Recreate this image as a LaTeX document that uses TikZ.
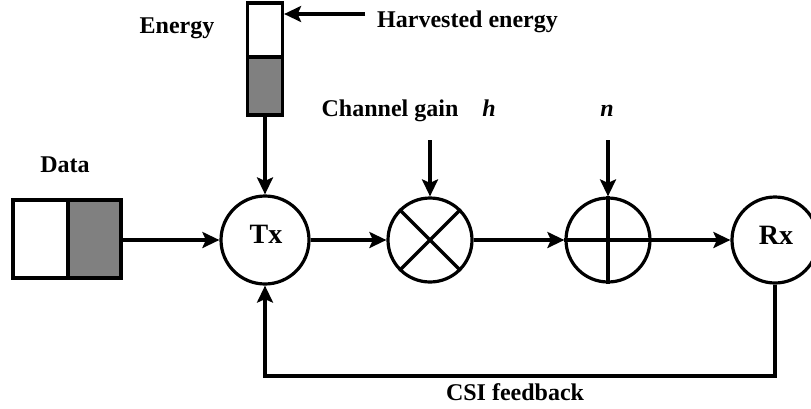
\documentclass[tikz,border=0pt]{standalone}
\usepackage{fontspec}
\setmainfont{Liberation Serif}
\usetikzlibrary{arrows.meta}
\definecolor{cellgray}{HTML}{808080}
\tikzset{
  wire/.style={line width=3.2pt},
  arr/.style={wire, -{Stealth[length=17pt,width=16pt,inset=3.5pt]}},
  cell/.style={draw, line width=3.2pt, minimum width=#1, inner sep=0pt},
  blk/.style={draw, circle, line width=3.2pt, inner sep=0pt, minimum size=#1},
  lbl/.style={font=\bfseries\fontsize{24}{28}\selectfont, inner sep=0pt, anchor=base},
  big/.style={font=\bfseries\fontsize{28}{32}\selectfont, inner sep=0pt, anchor=base},
}
\begin{document}
\begin{tikzpicture}[x=1pt,y=-1pt]
\useasboundingbox (0,0) rectangle (811,408);

% energy storage
\node[cell=35pt, minimum height=54pt, fill=white] (et) at (265,30) {};
\node[cell=35pt, minimum height=58pt, fill=cellgray] (eb) at (265,86) {};
\node[lbl] (elab) at (177,33) {Energy};
\node[lbl, anchor=base west] (hlab) at (377,27) {Harvested energy};
\coordinate (hs) at (365,14);
\draw[arr] (hs) -- (hs -| et.east);

% data queue
\node[cell=55pt, minimum height=78pt, fill=white] (dw) at (40.5,239) {};
\node[cell=53pt, minimum height=78pt, fill=cellgray] (dg) at (94.5,239) {};
\node[lbl] (dlab) at (65,172) {Data};

% chain blocks
\node[blk=88pt] (tx) at (265,240) {};
\node[big] at (266,243) {Tx};
\node[blk=84pt] (mul) at (430,240) {};
\draw[wire] (mul.north west) -- (mul.south east) (mul.north east) -- (mul.south west);
\node[blk=84pt] (add) at (608,240) {};
\draw[wire] (add.north) -- (add.south) (add.west) -- (add.east);
\node[blk=86pt] (rx) at (775,240) {};
\node[big] at (776,244) {Rx};

% inputs from above
\node[lbl] (glab) at (390,116) {Channel gain};
\node[lbl] (hsym) at (489,116) {\itshape h};
\node[lbl] (nsym) at (607,116) {\itshape n};
\coordinate (hin) at (430,140);
\coordinate (nin) at (608,140);
\draw[arr] (hin) -- (mul.north);
\draw[arr] (nin) -- (add.north);

% signal path
\draw[arr] (eb.south) -- (tx.north);
\draw[arr] (dg.east |- tx.west) -- (tx.west);
\draw[arr] (tx.east) -- (mul.west);
\draw[arr] (mul.east) -- (add.west);
\draw[arr] (add.east) -- (rx.west);

% feedback
\draw[arr] (rx.south) -- (rx.south |- 0,376) -- (tx.south |- 0,376) -- (tx.south);
\node[lbl] (flab) at (515,400) {CSI feedback};
\end{tikzpicture}
\end{document}
